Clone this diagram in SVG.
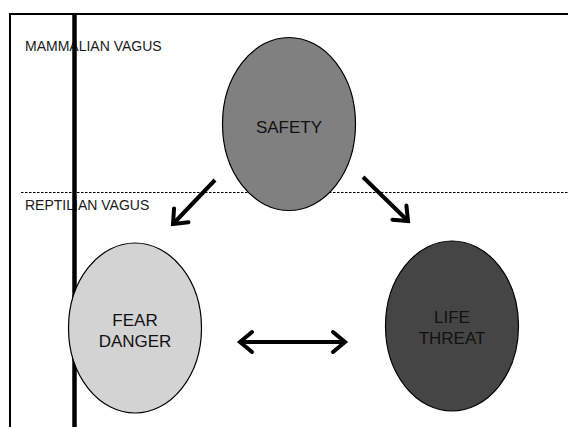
<svg xmlns="http://www.w3.org/2000/svg" width="568" height="427" viewBox="0 0 568 427">
  <style>
    .lbl { font-family: "Liberation Sans", Arial, sans-serif; font-size: 14px; fill: #1a1a1a; }
    .nt { font-family: "Liberation Sans", Arial, sans-serif; font-size: 17px; fill: #111; text-anchor: middle; }
    .node { stroke: #000; stroke-width: 1.2; }
    .arr { stroke: #000; stroke-width: 4; fill: none; }
  </style>
  <defs>
    <marker id="head" markerUnits="userSpaceOnUse" markerWidth="30" markerHeight="30" refX="0" refY="0" viewBox="-20 -15 30 30" orient="auto-start-reverse" overflow="visible">
      <path d="M -12 -10 L 0 0 L -12 10" fill="none" stroke="#000" stroke-width="4" stroke-linejoin="miter" stroke-linecap="round"/>
    </marker>
  </defs>
  <rect width="568" height="427" fill="#fff"/>
  <g id="frame">
    <path d="M 10 440 L 10 14 L 580 14" fill="none" stroke="#000" stroke-width="2"/>
  </g>
  <g id="divider">
    <line x1="21" y1="192.5" x2="568" y2="192.5" stroke="#000" stroke-width="1" stroke-dasharray="2.5 1.5"/>
  </g>
  <g id="labels">
    <text class="lbl" x="25" y="51">MAMMALIAN VAGUS</text>
    <text class="lbl" x="25" y="210">REPTILIAN VAGUS</text>
  </g>
  <g id="vline">
    <line x1="74.5" y1="14" x2="74.5" y2="427" stroke="#000" stroke-width="4.5"/>
  </g>
  <g id="safety">
    <ellipse class="node" cx="289" cy="124" rx="66.5" ry="86.5" fill="#808080"/>
    <text class="nt" x="289" y="133">SAFETY</text>
  </g>
  <g id="fear-danger">
    <ellipse class="node" cx="135" cy="328" rx="66.5" ry="85" fill="#d3d3d3"/>
    <text class="nt" x="135" y="326">FEAR</text>
    <text class="nt" x="135" y="347">DANGER</text>
  </g>
  <g id="life-threat">
    <ellipse class="node" cx="452" cy="326" rx="66.5" ry="85" fill="#454545"/>
    <text class="nt" x="452" y="323">LIFE</text>
    <text class="nt" x="452" y="344">THREAT</text>
  </g>
  <g id="connectors">
    <line class="arr" x1="215" y1="180" x2="173" y2="224" marker-end="url(#head)"/>
    <line class="arr" x1="363" y1="177" x2="408" y2="221" marker-end="url(#head)"/>
    <line class="arr" x1="240" y1="342" x2="345" y2="342" marker-start="url(#head)" marker-end="url(#head)"/>
  </g>
</svg>
